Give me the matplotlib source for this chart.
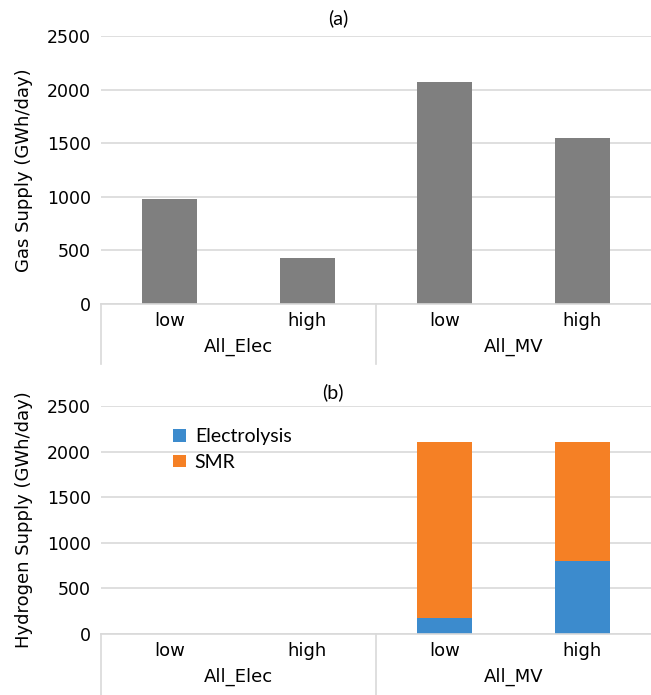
import matplotlib
matplotlib.use("Agg")
import matplotlib.pyplot as plt
import numpy as np

# data
groups = ["All_Elec", "All_MV"]
cases = ["low", "high", "low", "high"]
gas_supply = [980, 430, 2070, 1550]
electrolysis = [0, 0, 180, 800]
smr = [0, 0, 1920, 1300]
yticks = [0, 500, 1000, 1500, 2000, 2500]

GREY = "#7f7f7f"
BLUE = "#3c8bcd"
ORANGE = "#f58025"
GRID = "#d9d9d9"
TICK_FONT = "DejaVu Sans"
LEGEND_FONT = "Lato"

fig = plt.figure(figsize=(6.51, 6.95), dpi=100)
ax_a = fig.add_axes([0.155, 0.5626, 0.845, 0.3856])
ax_b = fig.add_axes([0.155, 0.0878, 0.845, 0.3280])

x = np.arange(len(cases))
width = 0.4


def style_axis(ax, ylabel, sep_len):
    ax.set_xlim(-0.5, len(cases) - 0.5)
    ax.set_ylim(0, 2500)
    ax.set_yticks(yticks)
    ax.set_yticklabels([str(t) for t in yticks], fontsize=12.5, family=TICK_FONT)
    ax.tick_params(axis="y", length=0, pad=7)
    ax.set_xticks([])
    ax.yaxis.grid(True, color=GRID, linewidth=1.2)
    ax.set_axisbelow(True)
    for s in ["top", "right", "left"]:
        ax.spines[s].set_visible(False)
    ax.spines["bottom"].set_color(GRID)
    ax.spines["bottom"].set_linewidth(1.2)
    ax.set_ylabel(ylabel, fontsize=13, family=TICK_FONT, labelpad=10)

    # category labels under the axis
    for xi, name in zip(x, cases):
        ax.annotate(name, xy=(xi, 0), xycoords=("data", "axes fraction"),
                    xytext=(0, -12), textcoords="offset points",
                    ha="center", va="center", fontsize=13, family=TICK_FONT)
    for gi, name in enumerate(groups):
        ax.annotate(name, xy=(2 * gi + 0.5, 0), xycoords=("data", "axes fraction"),
                    xytext=(0, -31), textcoords="offset points",
                    ha="center", va="center", fontsize=13, family=TICK_FONT)
    # group separators
    for sx in [-0.5, 1.5]:
        ax.plot([sx, sx], [0, -sep_len], color=GRID, linewidth=1.2,
                transform=ax.get_xaxis_transform(), clip_on=False)


# (a) gas supply
ax_a.bar(x, gas_supply, width, color=GREY)
style_axis(ax_a, "Gas Supply (GWh/day)", 0.225)
fig.text(338 / 651, 1 - 18 / 695, "(a)", ha="center", va="center",
         fontsize=14, family=LEGEND_FONT)

# (b) hydrogen supply
ax_b.bar(x, electrolysis, width, color=BLUE, label="Electrolysis")
ax_b.bar(x, smr, width, bottom=electrolysis, color=ORANGE, label="SMR")
style_axis(ax_b, "Hydrogen Supply (GWh/day)", 0.27)
fig.text(333 / 651, 1 - 392 / 695, "(b)", ha="center", va="center",
         fontsize=14, family=LEGEND_FONT)

ax_b.legend(loc="upper left", bbox_to_anchor=(0.1, 0.98), frameon=False,
            handlelength=0.65, handleheight=0.65, handletextpad=0.45,
            labelspacing=0.45, prop={"family": LEGEND_FONT, "size": 14})

fig.savefig("out.png", dpi=100)
